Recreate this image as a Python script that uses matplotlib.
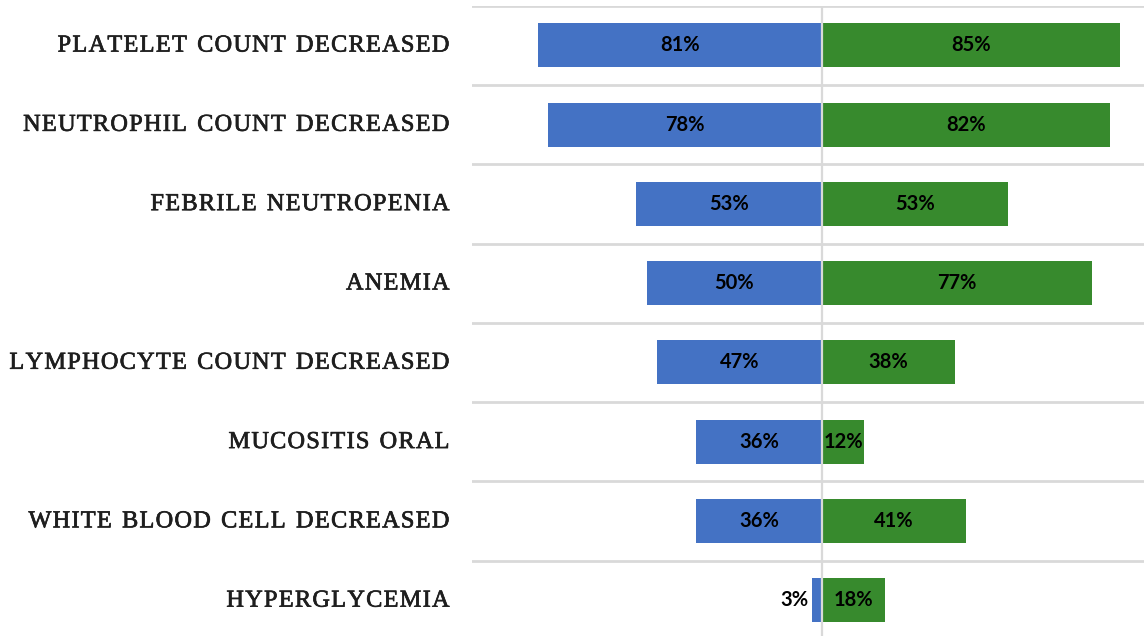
import matplotlib
matplotlib.use("Agg")
import matplotlib.pyplot as plt
import matplotlib.patheffects as pe
import numpy as np

categories = [
    "PLATELET COUNT DECREASED",
    "NEUTROPHIL COUNT DECREASED",
    "FEBRILE NEUTROPENIA",
    "ANEMIA",
    "LYMPHOCYTE COUNT DECREASED",
    "MUCOSITIS ORAL",
    "WHITE BLOOD CELL DECREASED",
    "HYPERGLYCEMIA",
]
left_pct = [81, 78, 53, 50, 47, 36, 36, 3]
right_pct = [85, 82, 53, 77, 38, 12, 41, 18]

BLUE = "#4472C4"
GREEN = "#378A2D"
GRID = "#d9d9d9"

W, H = 1144, 636
fig = plt.figure(figsize=(W / 100, H / 100), dpi=100)
fig.patch.set_facecolor("white")

top_px, row_px = 5.6, 79.3
left_px = 472
ax = fig.add_axes([left_px / W, 1 - (top_px + 8 * row_px) / H,
                   1 - left_px / W, 8 * row_px / H])
ax.set_xlim(-99.8, 91.8)
ax.set_ylim(7.5, -0.5)

y = np.arange(len(categories))
bh = 0.555
ax.barh(y, [-v for v in left_pct], height=bh, color=BLUE, zorder=3)
ax.barh(y, right_pct, height=bh, color=GREEN, zorder=3)

for yb in np.arange(-0.5, 8.0, 1.0):
    ax.axhline(yb, color=GRID, lw=2, zorder=1)
ax.axvline(0, color=GRID, lw=1.6, zorder=4)

lab_font = dict(family=["Lato", "DejaVu Sans"], weight="bold", size=14.5, color="black")
for yi, lv, rv in zip(y, left_pct, right_pct):
    if lv < 8:
        ax.text(-lv - 0.9, yi, f"{lv}%", ha="right", va="center", zorder=5, **lab_font)
    else:
        ax.text(-lv / 2, yi, f"{lv}%", ha="center", va="center", zorder=5, **lab_font)
    ax.text(rv / 2, yi, f"{rv}%", ha="center", va="center", zorder=5, **lab_font)

ax.set_yticks([])
ax.set_xticks([])
for s in ax.spines.values():
    s.set_visible(False)

# Category labels: letter-spaced serif caps, right-aligned beside the axes
cat_font = dict(family=["Liberation Serif", "DejaVu Serif"], size=17.5, color="#1e1e1e")
heavier = [pe.withStroke(linewidth=0.5, foreground="#1e1e1e")]
tracking = 1.3      # extra px between letters
word_gap = 1.5      # extra px for spaces
right_edge = 449.5
renderer = fig.canvas.get_renderer()


def char_width(ch):
    t = fig.text(0, 0, ch if ch != " " else "n n", **cat_font)
    w = t.get_window_extent(renderer).width
    if ch == " ":
        t2 = fig.text(0, 0, "nn", **cat_font)
        w -= t2.get_window_extent(renderer).width
        t2.remove()
    t.remove()
    return w


cache = {}
for i, label in enumerate(categories):
    widths = []
    for ch in label:
        if ch not in cache:
            cache[ch] = char_width(ch)
        widths.append(cache[ch])
    gaps = [tracking + (word_gap if ch == " " else 0) for ch in label[:-1]]
    total = sum(widths) + sum(gaps)
    x = right_edge - total
    baseline = top_px + row_px * (i + 0.5) + 6.3
    for j, ch in enumerate(label):
        if ch != " ":
            fig.text(x / W, 1 - baseline / H, ch, ha="left", va="baseline",
                     path_effects=heavier, **cat_font)
        x += widths[j] + (gaps[j] if j < len(gaps) else 0)

fig.savefig("out.png", dpi=100, facecolor="white")
